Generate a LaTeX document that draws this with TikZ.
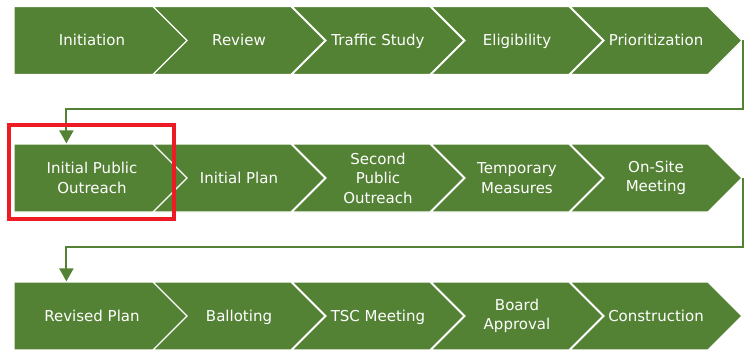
\documentclass[tikz,border=0pt]{standalone}
\usepackage{fontspec}
\setmainfont{DejaVu Sans}
\usetikzlibrary{shapes.symbols,arrows.meta}
\definecolor{stepgreen}{HTML}{548235}
\definecolor{markred}{HTML}{ED1C24}
\begin{document}
\begin{tikzpicture}[x=1pt,y=-1pt,
                stage/.style={signal,signal to=east,signal from=west,
                signal pointer angle=90,fill=stepgreen,draw=white,line width=1.2pt,
                text=white,align=center,inner sep=0pt,
                minimum height=68pt,minimum width=172pt,
                font=\fontsize{15}{19.5}\selectfont},
                first/.style={stage,signal from=nowhere,minimum width=190pt},
                oneline/.style={text height=13pt,text depth=2pt},
                link/.style={draw=stepgreen,line width=2pt,
                -{Triangle[width=14pt,length=13pt]}}]
                \useasboundingbox (0,0) rectangle (746,350);
                % first row
                \node (init) at (92,40.5) [first,oneline] {Initiation};
                \node (rev) at (239,40.5) [stage,oneline] {Review};
                \node (traf) at (378,40.5) [stage,oneline] {Traffic Study};
                \node (elig) at (517,40.5) [stage,oneline] {Eligibility};
                \node (prio) at (656,40.5) [stage,oneline] {Prioritization};
                % second row
                \node (ipo) at (92,178) [first] {Initial Public\\Outreach};
                \node (iplan) at (239,178) [stage,oneline] {Initial Plan};
                \node (spo) at (378,178) [stage] {Second\\Public\\Outreach};
                \node (temp) at (517,178) [stage] {Temporary\\Measures};
                \node (site) at (656,178) [stage] {On-Site\\Meeting};
                % third row
                \node (rplan) at (92,316) [first,oneline] {Revised Plan};
                \node (ball) at (239,316) [stage,oneline] {Balloting};
                \node (tsc) at (378,316) [stage,oneline] {TSC Meeting};
                \node (board) at (517,316) [stage] {Board\\Approval};
                \node (cons) at (656,316) [stage,oneline] {Construction};
                \draw[link] (prio.east) -- ++(0,68.5) -| ([xshift=53pt]ipo.north west);
                \draw[link] (site.east) -- ++(0,69) -| ([xshift=53pt]rplan.north west);
                \node (mark) at (91.5,172) [draw=markred,line width=4.5pt,
                minimum width=165pt,minimum height=94pt] {};
            \end{tikzpicture}
\end{document}
